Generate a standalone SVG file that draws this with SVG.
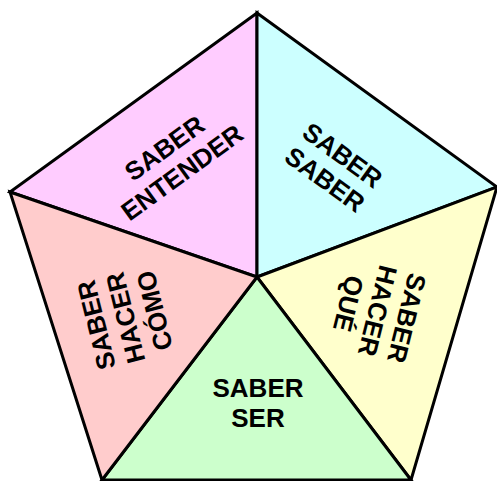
<svg xmlns="http://www.w3.org/2000/svg" width="497" height="481" viewBox="0 0 497 481">
<style>
.seg{stroke:#000;stroke-width:3;stroke-linejoin:miter}
.lbl{font-family:"Liberation Sans",Arial,sans-serif;font-weight:bold;font-size:26px;fill:#000;text-anchor:middle}
</style>
<rect width="497" height="481" fill="#fff"/>
<g id="saber-entender">
<polygon class="seg" points="257,13 10,192 257,277" fill="#FFCCFF"/>
<text class="lbl" transform="translate(173,160) rotate(-36)"><tspan x="0" y="-5.5">SABER</tspan><tspan x="0" y="24.5">ENTENDER</tspan></text>
</g>
<g id="saber-saber">
<polygon class="seg" points="257,13 497,187 257,277" fill="#CCFFFF"/>
<text class="lbl" transform="translate(334,167) rotate(36)"><tspan x="0" y="-5.5">SABER</tspan><tspan x="0" y="24.5">SABER</tspan></text>
</g>
<g id="saber-hacer-que">
<polygon class="seg" points="497,187 411,480 257,277" fill="#FFFFCC"/>
<text class="lbl" transform="translate(378,311) rotate(104)"><tspan x="0" y="-20.5">SABER</tspan><tspan x="0" y="9.5">HACER</tspan><tspan x="0" y="39.5">QUÉ</tspan></text>
</g>
<g id="saber-ser">
<polygon class="seg" points="411,480 102,480 257,277" fill="#CCFFCC"/>
<text class="lbl" transform="translate(258,402)"><tspan x="0" y="-5.5">SABER</tspan><tspan x="0" y="24.5">SER</tspan></text>
</g>
<g id="saber-hacer-como">
<polygon class="seg" points="102,480 10,192 257,277" fill="#FFCCCC"/>
<text class="lbl" transform="translate(125,318) rotate(-104)"><tspan x="0" y="-20.5">SABER</tspan><tspan x="0" y="9.5">HACER</tspan><tspan x="0" y="39.5">CÓMO</tspan></text>
</g>
<g id="connectors"></g>
</svg>
